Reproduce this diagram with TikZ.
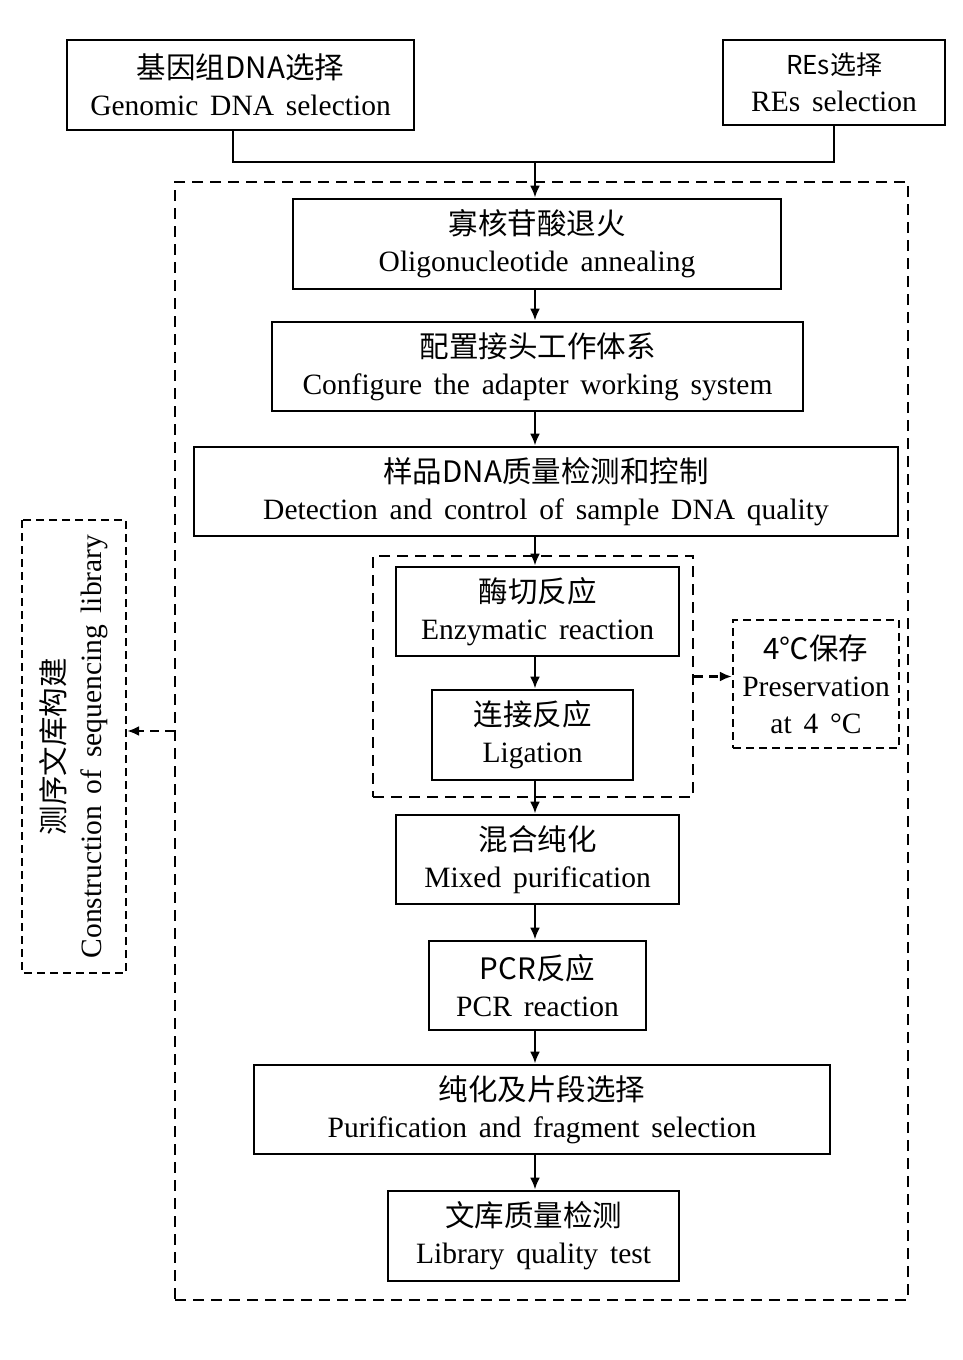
\documentclass[tikz,border=0pt]{standalone}
\usepackage{fontspec}
\setmainfont{Liberation Serif}[WordSpace=1.6]
\newfontfamily\cjk{Noto Sans CJK SC}
\usetikzlibrary{arrows.meta,calc}
\begin{document}
\begin{tikzpicture}[x=1pt,y=-1pt,
  box/.style={draw, line width=2.8pt, inner sep=0pt, align=center, font=\fontsize{29.5}{37}\selectfont},
  dbox/.style={box, line width=2.6pt, dash pattern=on 11pt off 7pt},
  tbox/.style={box, line width=2.2pt, dash pattern=on 8pt off 5pt},
  arr/.style={line width=2.4pt, -{Latex[length=12pt,width=10pt]}},
  darr/.style={arr, dash pattern=on 9pt off 6pt},
  link/.style={line width=2.6pt}]
\useasboundingbox (0,0) rectangle (962,1360);
% dashed frames
\node[dbox, minimum width=733pt, minimum height=1118pt] (outer) at (541.5,741) {};
\node[dbox, minimum width=320pt, minimum height=241pt] (inner) at (533,676.5) {};
% top boxes
\node[box, minimum width=347pt, minimum height=90pt] (gen) at (240.5,85) {{\cjk 基因组DNA选择}\\Genomic DNA selection};
\node[box, minimum width=222pt, minimum height=85pt] (res) at (834,82.5) {{\cjk\fontsize{26}{34}\selectfont REs选择}\\REs selection};
% flow boxes
\node[box, minimum width=488pt, minimum height=90pt] (oligo) at (537,244) {{\cjk 寡核苷酸退火}\\Oligonucleotide annealing};
\node[box, minimum width=531pt, minimum height=89pt] (config) at (537.5,366.5) {{\cjk 配置接头工作体系}\\Configure the adapter working system};
\node[box, minimum width=704pt, minimum height=89pt] (detect) at (546,491.5) {{\cjk 样品DNA质量检测和控制}\\Detection and control of sample DNA quality};
\node[box, minimum width=283pt, minimum height=89pt] (enz) at (537.5,611.5) {{\cjk 酶切反应}\\Enzymatic reaction};
\node[box, minimum width=201pt, minimum height=90pt] (lig) at (532.5,735) {{\cjk 连接反应}\\Ligation};
\node[tbox, minimum width=166pt, minimum height=128pt] (pres) at (816,684) {{\cjk 4℃保存}\\Preservation\\at 4 °C};
\node[box, minimum width=283pt, minimum height=89pt] (mixed) at (537.5,859.5) {{\cjk 混合纯化}\\Mixed purification};
\node[box, minimum width=217pt, minimum height=89pt] (pcr) at (537.5,985.5) {{\cjk PCR反应}\\PCR reaction};
\node[box, minimum width=576pt, minimum height=89pt] (pur) at (542,1109.5) {{\cjk 纯化及片段选择}\\Purification and fragment selection};
\node[box, minimum width=291pt, minimum height=90pt] (lib) at (533.5,1236) {{\cjk 文库质量检测}\\Library quality test};
% left label box
\node[tbox, rotate=90, minimum width=453pt, minimum height=104pt] (left) at (74,746.5) {{\cjk 测序文库构建}\\Construction of sequencing library};
% connectors
\coordinate (j) at (535,162);
\coordinate (gx) at (233,0);
\coordinate (ax) at (535,0);
\coordinate (aL) at (0,731);
\draw[link] (gen.south -| gx) |- (j) -| (res.south);
\draw[arr] (j) -- (j |- oligo.north);
\draw[arr] (oligo.south -| ax) -- (config.north -| ax);
\draw[arr] (config.south -| ax) -- (detect.north -| ax);
\draw[arr] (detect.south -| ax) -- (enz.north -| ax);
\draw[arr] (enz.south -| ax) -- (lig.north -| ax);
\draw[arr] (lig.south -| ax) -- (mixed.north -| ax);
\draw[arr] (mixed.south -| ax) -- (pcr.north -| ax);
\draw[arr] (pcr.south -| ax) -- (pur.north -| ax);
\draw[arr] (pur.south -| ax) -- (lib.north -| ax);
\draw[darr] (inner.east) -- (inner.east -| pres.west);
\draw[darr] (outer.west |- aL) -- (left.south |- aL);
\end{tikzpicture}
\end{document}
